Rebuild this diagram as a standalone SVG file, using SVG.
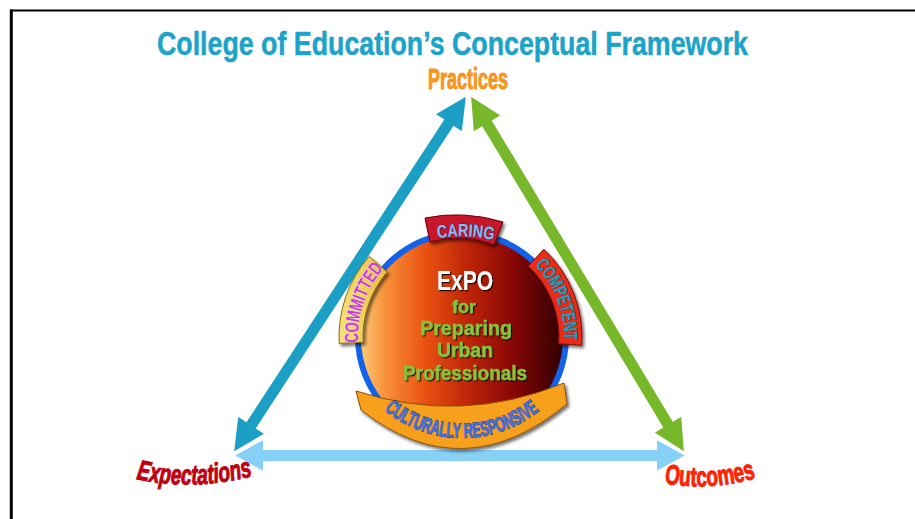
<svg xmlns="http://www.w3.org/2000/svg" width="915" height="519" viewBox="0 0 915 519">
<style>
.cond{font-family:"Liberation Sans Narrow","Liberation Sans",Arial,sans-serif;font-weight:bold}
.green{fill:#84c33a;stroke:#84c33a;stroke-width:0.4}
.arrow{stroke:#fff;stroke-width:2;stroke-linejoin:miter}
.lbl{stroke-width:1}
</style>
<defs>
<linearGradient id="disc" x1="0" y1="0" x2="1" y2="0">
<stop offset="0" stop-color="#fdd080"/>
<stop offset="0.13" stop-color="#f8923a"/>
<stop offset="0.32" stop-color="#ea5212"/>
<stop offset="0.52" stop-color="#c02608"/>
<stop offset="0.75" stop-color="#860606"/>
<stop offset="1" stop-color="#2c0000"/>
</linearGradient>
<linearGradient id="yel" x1="0" y1="0" x2="1" y2="0">
<stop offset="0" stop-color="#f7e07a"/>
<stop offset="1" stop-color="#e9bd45"/>
</linearGradient>
<filter id="sh" x="-20%" y="-20%" width="140%" height="140%">
<feDropShadow dx="2" dy="2.5" stdDeviation="1.5" flood-color="#000" flood-opacity="0.55"/>
</filter>
<filter id="tsh" x="-10%" y="-20%" width="130%" height="150%">
<feDropShadow dx="1.2" dy="1.2" stdDeviation="0.5" flood-color="#000" flood-opacity="0.85"/>
</filter>
<path id="pCaring" d="M434,239 Q464,233 497,241"/>
<path id="pCommitted" d="M358.40,346.06 A104,104 0 0 1 385.94,266.07"/>
<path id="pCompetent" d="M528.92,260.02 A102,102 0 0 1 563.44,347.66"/>
<path id="pCultural" d="M365.1,390.7 A123,123 0 0 0 558.9,390.7"/>
<path id="pExp" d="M136,479 Q195,492 256,475"/>
<path id="pOut" d="M664,483 Q710,492 759,477"/>
</defs>

<rect width="915" height="519" fill="#fff"/>
<g id="frame">
<line x1="10" y1="10.5" x2="915" y2="10.5" stroke="#000" stroke-width="2"/>
<line x1="11.3" y1="9.5" x2="11.3" y2="519" stroke="#000" stroke-width="3"/>
</g>

<g id="title">
<text class="cond" x="452.5" y="55" font-size="34" text-anchor="middle" textLength="591" lengthAdjust="spacingAndGlyphs" fill="#1ba3c9" stroke="#1ba3c9" stroke-width="0.5">College of Education’s Conceptual Framework</text>
</g>

<g id="connectors">
<polygon class="arrow" fill="#88d1f6" points="233,455.5 264,438.5 264,449 656,449 656,438.5 687,455.5 656,472.5 656,462 264,462 264,472.5"/>
<polygon class="arrow" fill="#1b9fc4" points="467,95 462.63,132.76 453.84,127.02 257.04,428.10 265.83,433.84 233,453 237.37,415.24 246.16,420.98 442.96,119.90 434.17,114.16"/>
<polygon class="arrow" fill="#77b82a" points="470,95 502.07,115.40 493.07,120.80 673.07,420.50 682.07,415.10 685,453 652.93,432.60 661.93,427.20 481.93,127.50 472.93,132.90"/>
</g>

<g id="practices">
<text class="cond lbl" x="468" y="89" font-size="29" text-anchor="middle" textLength="80" lengthAdjust="spacingAndGlyphs" fill="#f7941d" stroke="#f7941d">Practices</text>
</g>
<g id="expectations">
<text class="cond lbl" font-size="28" font-style="italic" fill="#c00010" stroke="#c00010"><textPath href="#pExp" startOffset="0" textLength="118" lengthAdjust="spacingAndGlyphs">Expectations</textPath></text>
</g>
<g id="outcomes">
<text class="cond lbl" font-size="28" fill="#ff2200" stroke="#ff2200"><textPath href="#pOut" startOffset="0" textLength="93" lengthAdjust="spacingAndGlyphs">Outcomes</textPath></text>
</g>

<g id="hub">
<circle cx="462" cy="337" r="104" fill="url(#disc)" stroke="#1562ea" stroke-width="6"/>
<g filter="url(#tsh)">
<text class="cond" x="465" y="290" font-size="28" text-anchor="middle" textLength="56" lengthAdjust="spacingAndGlyphs" fill="#fff">ExPO</text>
<text class="cond green" x="464" y="313" font-size="19" text-anchor="middle" textLength="24" lengthAdjust="spacingAndGlyphs">for</text>
<text class="cond green" x="466" y="335" font-size="20" text-anchor="middle" textLength="92" lengthAdjust="spacingAndGlyphs">Preparing</text>
<text class="cond green" x="465" y="357" font-size="20" text-anchor="middle" textLength="56" lengthAdjust="spacingAndGlyphs">Urban</text>
<text class="cond green" x="465" y="380" font-size="21" text-anchor="middle" textLength="124" lengthAdjust="spacingAndGlyphs">Professionals</text>
</g>
</g>

<g id="caring">
<path d="M425,218 Q463,210 503,222 L494,245 Q463,232.5 430,242 Z" fill="#c8122c" stroke="#6a0010" stroke-width="1" filter="url(#sh)"/>
<text class="cond" font-size="18" fill="#86bff2" stroke="#1b2d6a" stroke-width="0.8" paint-order="stroke"><textPath href="#pCaring" startOffset="50%" text-anchor="middle" textLength="56" lengthAdjust="spacingAndGlyphs">CARING</textPath></text>
</g>

<g id="committed">
<path d="M339.17,343.44 A123,123 0 0 1 369.17,256.30 L387.28,272.05 A99,99 0 0 0 363.14,342.18 Z" fill="url(#yel)" stroke="#8a6a10" stroke-width="1" filter="url(#sh)"/>
<text class="cond" font-size="19" fill="#c23ce6" stroke="#ffffff" stroke-width="0.5" paint-order="stroke"><textPath href="#pCommitted" startOffset="50%" text-anchor="middle" textLength="80" lengthAdjust="spacingAndGlyphs">COMMITTED</textPath></text>
</g>

<g id="competent">
<path d="M543.84,249.24 A120,120 0 0 1 581.71,345.37 L558.76,343.77 A97,97 0 0 0 528.15,266.06 Z" fill="#ec2a14" stroke="#7a1008" stroke-width="1" filter="url(#sh)"/>
<text class="cond" font-size="19" fill="#1fa2c2" stroke="#0e2a40" stroke-width="0.7" paint-order="stroke"><textPath href="#pCompetent" startOffset="50%" text-anchor="middle" textLength="82" lengthAdjust="spacingAndGlyphs">COMPETENT</textPath></text>
</g>

<g id="culturally">
<path d="M356,391 Q462,425 564,383 L567,404 Q463,490 361,410 Z" fill="#f6a01c" stroke="#8a5008" stroke-width="1" filter="url(#sh)"/>
<text class="cond" font-size="21" fill="#3d72ea" stroke="#13246a" stroke-width="0.8" paint-order="stroke"><textPath href="#pCultural" startOffset="50%" text-anchor="middle" textLength="168" lengthAdjust="spacingAndGlyphs">CULTURALLY RESPONSIVE</textPath></text>
</g>
</svg>
